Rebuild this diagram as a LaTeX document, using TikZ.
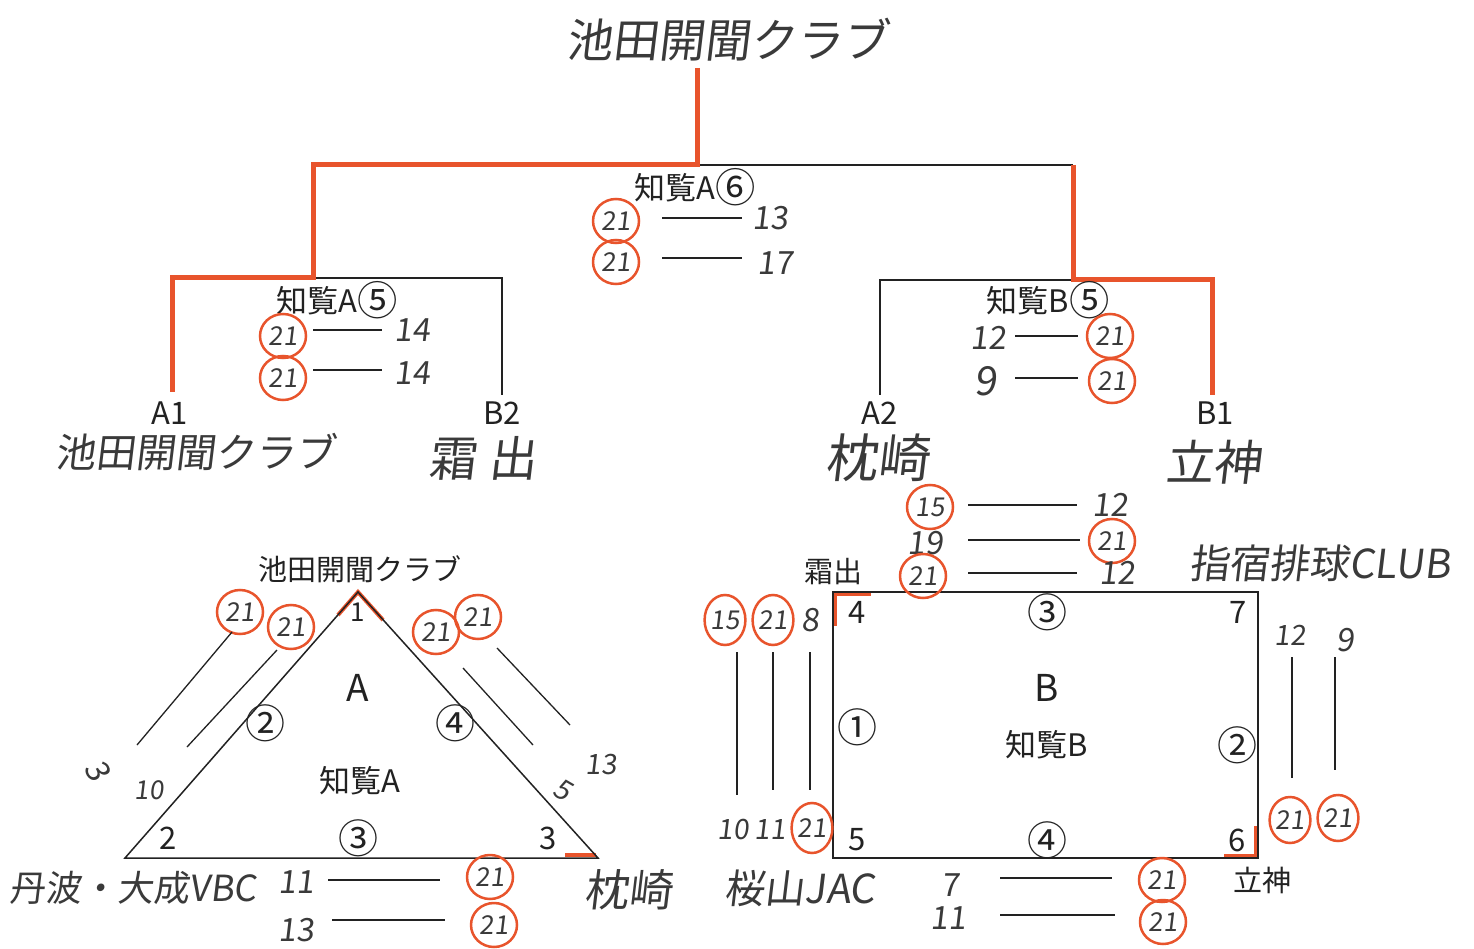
\documentclass[tikz,border=0pt]{standalone}
\usepackage{fontspec}
\setmainfont{Noto Sans CJK JP}
\newfontfamily\hand[FakeSlant=0.12]{Noto Sans CJK JP}
\usetikzlibrary{shapes.geometric}
\definecolor{myred}{HTML}{E8542C}
\definecolor{ink}{HTML}{222222}
\definecolor{pen}{HTML}{3A3A3A}
\newcommand{\cnm}[1]{\raisebox{-0.1em}{\scalebox{1.3}{#1}}}
\tikzset{
  br/.style={draw=myred, line width=5pt},
  bk/.style={draw=ink, line width=1.5pt},
  prt/.style={font=\fontsize{31}{31}\selectfont, inner sep=0pt, text=ink},
  tnm/.style={font=\fontsize{29}{29}\selectfont, inner sep=0pt, text=ink},
  cnum/.style={font=\fontsize{40}{40}\selectfont, inner sep=0pt, text=ink},
  dig/.style={font=\fontsize{31}{31}\selectfont, inner sep=0pt, text=ink},
  big/.style={font=\fontsize{37}{37}\selectfont, inner sep=0pt, text=ink},
  hw/.style={font=\hand\fontsize{32}{32}\selectfont, inner sep=0pt, text=pen},
  hwl/.style={font=\hand\fontsize{44}{44}\selectfont, inner sep=0pt, text=pen},
  cw/.style={font=\hand\fontsize{26}{26}\selectfont, text=pen, ellipse, draw=myred, line width=2.5pt, minimum width=46pt, minimum height=44pt, inner sep=0pt},
  sl/.style={draw=ink, line width=1.3pt},
}
\begin{document}
\begin{tikzpicture}[x=1pt, y=-1pt]
\useasboundingbox[fill=white] (0,0) rectangle (1474,949);

% ---------- bracket ----------
\node[hwl, font=\hand\fontsize{46}{46}\selectfont] (title) at (727,40) {池田開聞クラブ};
\coordinate (t0) at (697,68);
\coordinate (tm) at (697,165);
\coordinate (tl) at (313,165);
\coordinate (tr) at (1073,165);
\coordinate (ll) at (313,278);
\coordinate (rr) at (1073,280);
\coordinate (la) at (172,278);
\coordinate (lb) at (502,278);
\coordinate (ra) at (880,280);
\coordinate (rb) at (1212,280);
\coordinate (la2) at (172,392);
\coordinate (lb2) at (502,395);
\coordinate (ra2) at (880,395);
\coordinate (rb2) at (1212,395);
\draw[bk] (tm) -- (tr);
\draw[bk] (ll) -- (lb) -- (lb2);
\draw[bk] (rb) -- (ra) -- (ra2);
\draw[br] (t0) -- (tm) -- (tl) -- (ll) -- (la) -- (la2);
\draw[br] (tr) -- (rr) -- (rb) -- (rb2);

% final
\node[prt] (fA6) at (695,187) {知覧A\cnm{⑥}};
\node[cw] (f1a) at (616,221) {21};
\node[cw] (f2a) at (616,262) {21};
\node[hw] (f1b) at (770,218) {13};
\node[hw] (f2b) at (775,263) {17};
\draw[sl] (662,218) -- (742,218);
\draw[sl] (662,258) -- (742,258);

% left semifinal
\node[prt] (sA5) at (337,300) {知覧A\cnm{⑤}};
\node[cw] (l1a) at (283,336) {21};
\node[cw] (l2a) at (283,378) {21};
\node[hw] (l1b) at (412,330) {14};
\node[hw] (l2b) at (412,373) {14};
\draw[sl] (313,330) -- (382,330);
\draw[sl] (313,370) -- (382,370);

% right semifinal
\node[prt] (sB5) at (1048,300) {知覧B\cnm{⑤}};
\node[hw] (r1a) at (988,338) {12};
\node[hw, font=\hand\fontsize{40}{40}\selectfont] (r2a) at (986,381) {9};
\node[cw] (r1b) at (1110,336) {21};
\node[cw] (r2b) at (1112,381) {21};
\draw[sl] (1015,336) -- (1078,336);
\draw[sl] (1015,378) -- (1078,378);

% seeds
\node[prt] (sa1) at (170,413) {A1};
\node[prt] (sb2) at (502,413) {B2};
\node[prt] (sa2) at (880,413) {A2};
\node[prt] (sb1) at (1215,413) {B1};
\node[hwl, font=\hand\fontsize{40}{40}\selectfont] (n1) at (195,452) {池田開聞クラブ};
\node[hwl, font=\hand\fontsize{48}{48}\selectfont] (n2) at (482,458) {霜\hspace{12pt}出};
\node[hwl, font=\hand\fontsize{52}{52}\selectfont] (n3) at (877,458) {枕崎};
\node[hwl, font=\hand\fontsize{48}{48}\selectfont] (n4) at (1213,462) {立神};

% ---------- triangle (pool A) ----------
\coordinate (A1) at (358,592);
\coordinate (A2) at (125,858);
\coordinate (A3) at (598,858);
\draw[myred, line width=4pt] (338,615) -- (A1) -- (383,620);
\draw[myred, line width=4pt] (565,855) -- (596,855);
\draw[bk] (A1) -- (A2) -- (A3) -- cycle;
\node[tnm] (tAn) at (360,569) {池田開聞クラブ};
\node[dig, font=\fontsize{26}{26}\selectfont] (c1) at (358,612) {1};
\node[big] (tA) at (358,688) {A};
\node[cnum] (e2) at (265,723) {②};
\node[cnum] (e4) at (455,723) {④};
\node[prt] (tAc) at (360,781) {知覧A};
\node[dig] (c2) at (168,838) {2};
\node[cnum] (e3) at (358,838) {③};
\node[dig] (c3) at (548,838) {3};

% left side matches
\node[cw] (tl1) at (240,612) {21};
\node[cw] (tl2) at (291,627) {21};
\node[hw, rotate=-60] (tl3) at (98,770) {3};
\node[hw, font=\hand\fontsize{26}{26}\selectfont] (tl4) at (149,790) {10};
\draw[sl] (137,745) -- (232,632);
\draw[sl] (187,747) -- (277,650);
% right side matches
\node[cw] (tr1) at (436,632) {21};
\node[cw] (tr2) at (478,617) {21};
\draw[sl] (463,668) -- (533,745);
\draw[sl] (497,648) -- (570,725);
\node[hw, font=\hand\fontsize{28}{28}\selectfont, rotate=-30] (tr3) at (563,790) {5};
\node[hw, font=\hand\fontsize{28}{28}\selectfont] (tr4) at (601,765) {13};
% bottom matches
\node[hwl, font=\hand\fontsize{36}{36}\selectfont] (tb1) at (133,888) {丹波・大成VBC};
\node[hwl, font=\hand\fontsize{44}{44}\selectfont] (tb2) at (628,890) {枕崎};
\node[hw] (tb3) at (296,882) {11};
\node[hw] (tb4) at (296,930) {13};
\draw[sl] (328,880) -- (440,880);
\draw[sl] (332,920) -- (445,920);
\node[cw] (tb5) at (490,877) {21};
\node[cw] (tb6) at (494,925) {21};

% ---------- rectangle (pool B) ----------
\coordinate (B4) at (833,592);
\coordinate (B7) at (1258,592);
\coordinate (B6) at (1258,858);
\coordinate (B5) at (833,858);
\draw[myred, line width=4pt] (835,626) -- (835,594) -- (871,594);
\draw[myred, line width=4pt] (1256,826) -- (1256,856) -- (1224,856);
\draw[bk] (B4) -- (B7) -- (B6) -- (B5) -- cycle;
\node[tnm] (rn4) at (833,572) {霜出};
\node[hwl, font=\hand\fontsize{40}{40}\selectfont] (rn7) at (1320,563) {指宿排球CLUB};
\node[tnm] (rn6) at (1262,880) {立神};
\node[hwl, font=\hand\fontsize{40}{40}\selectfont] (rn5) at (800,888) {桜山JAC};
\node[dig] (d4) at (857,612) {4};
\node[cnum] (g3) at (1047,612) {③};
\node[dig] (d7) at (1238,612) {7};
\node[big] (tB) at (1047,688) {B};
\node[cnum] (g1) at (857,727) {①};
\node[prt] (tBc) at (1047,745) {知覧B};
\node[cnum] (g2) at (1237,745) {②};
\node[dig] (d5) at (857,840) {5};
\node[cnum] (g4) at (1047,840) {④};
\node[dig] (d6) at (1237,840) {6};

% top matches (pool B)
\node[cw] (bt1) at (930,507) {15};
\node[hw] (bt2) at (1110,505) {12};
\node[hw] (bt3) at (925,543) {19};
\node[cw] (bt4) at (1112,541) {21};
\node[cw] (bt5) at (923,576) {21};
\node[hw] (bt6) at (1117,573) {12};
\draw[sl] (968,505) -- (1077,505);
\draw[sl] (968,540) -- (1080,540);
\draw[sl] (968,573) -- (1077,573);

% left matches
\node[cw, minimum width=40pt, minimum height=50pt] (bl1) at (725,620) {15};
\node[cw, minimum width=40pt, minimum height=50pt] (bl2) at (773,620) {21};
\node[hw] (bl3) at (810,620) {8};
\draw[sl] (737,652) -- (737,795);
\draw[sl] (773,652) -- (773,790);
\draw[sl] (810,652) -- (810,790);
\node[hw, font=\hand\fontsize{28}{28}\selectfont] (bl4) at (733,830) {10};
\node[hw, font=\hand\fontsize{28}{28}\selectfont] (bl5) at (770,830) {11};
\node[cw, minimum width=40pt, minimum height=50pt] (bl6) at (812,828) {21};

% right matches
\node[hw, font=\hand\fontsize{28}{28}\selectfont] (br1) at (1290,635) {12};
\node[hw] (br2) at (1345,640) {9};
\draw[sl] (1292,657) -- (1292,778);
\draw[sl] (1335,657) -- (1335,770);
\node[cw, minimum width=40pt, minimum height=46pt] (br3) at (1290,820) {21};
\node[cw, minimum width=40pt, minimum height=46pt] (br4) at (1338,818) {21};

% bottom matches
\node[hw] (bb1) at (950,885) {7};
\node[hw] (bb2) at (948,918) {11};
\draw[sl] (1000,878) -- (1112,878);
\draw[sl] (1000,915) -- (1115,915);
\node[cw] (bb3) at (1162,880) {21};
\node[cw] (bb4) at (1163,922) {21};
\end{tikzpicture}
\end{document}
